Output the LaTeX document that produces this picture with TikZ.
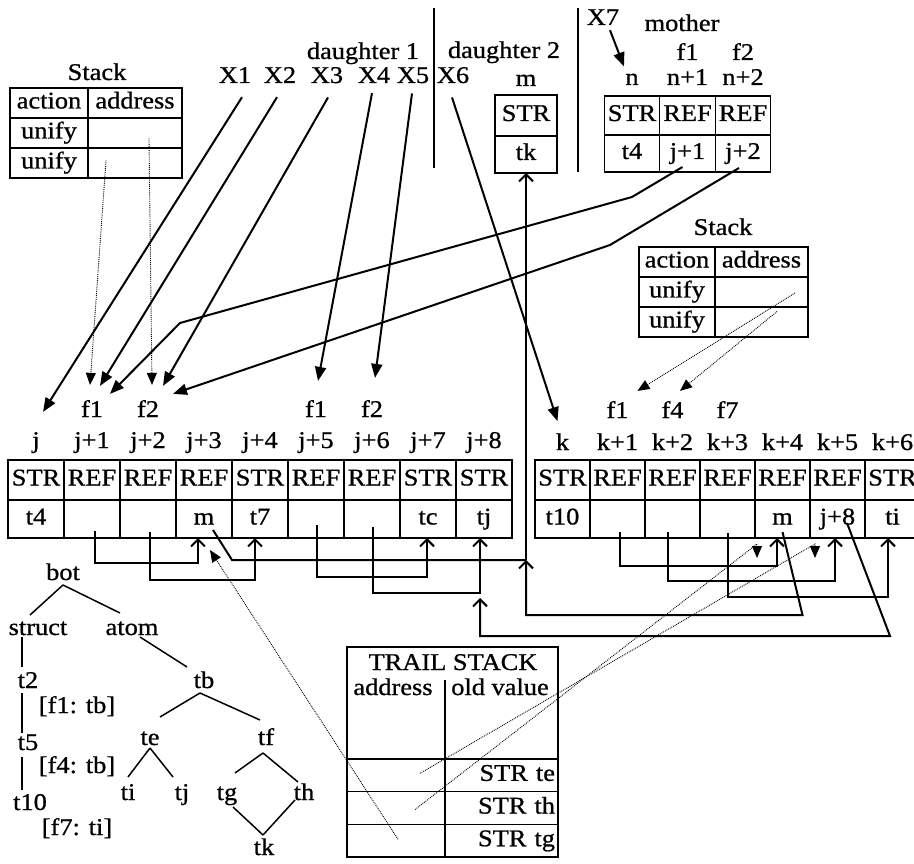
\documentclass[tikz,border=0pt]{standalone}
\usepackage{fontspec}
\setmainfont{Liberation Serif}[FakeStretch=1.1, FakeBold=0.8]
\usetikzlibrary{arrows.meta, positioning, calc}
\tikzset{
    font=\fontsize{24}{28}\selectfont,
    % Cells
    cell/.style={draw, line width=1.4pt, inner sep=0pt, outer sep=0pt,
                 minimum width=56pt, minimum height=40pt, text height=16pt, text depth=5pt},
    tcell/.style={draw, line width=1.4pt, inner sep=0pt, outer sep=0pt,
                  minimum height=30pt, text height=16pt, text depth=5pt},
    lbl/.style={anchor=base, inner sep=1pt},
    % Connectors
    ptr/.style={line width=2pt, -{Triangle[length=14pt,width=11pt]}},
    refarrow/.style={line width=2pt, -{Straight Barb[length=7pt,width=14pt]}},
    refline/.style={line width=2pt},
    dotptr/.style={densely dotted, line width=0.9pt, -{Triangle[length=12pt,width=10pt]}},
    tedge/.style={line width=1.5pt},
    divider/.style={line width=1.6pt}
}
\begin{document}
\begin{tikzpicture}[x=1pt, y=-1pt]
\clip (0,0) rectangle (914,864);
\fill[white] (0,0) rectangle (914,864);

% daughters
\node[lbl] (d1) at (363,59) {daughter 1};
\node[lbl] (d2) at (504,58) {daughter 2};
\draw[divider] (434,8) -- (434,168);
\draw[divider] (578,8) -- (578,172);
\foreach \n/\x in {1/235, 2/280, 3/327, 4/374, 5/413, 6/453}
    \node[lbl] (x\n) at (\x,83) {X\n};

\node[lbl] (dadr) at (526,86) {m};
\node[cell, minimum width=62pt, minimum height=41pt] (dt) at (526,115.5) {STR};
\node[cell, minimum width=62pt, minimum height=37pt, below=0pt of dt] (dv) {tk};

% mother
\node[lbl] (x7) at (603,25) {X7};
\node[lbl] (mom) at (682,31) {mother};
\foreach \adr/\f/\tag/\val [count=\i from 0] in {n//STR/t4, n+1/f1/REF/j+1, n+2/f2/REF/j+2} {
    \node[cell, minimum width=55.5pt, minimum height=39pt] (mt\i) at (632+55.5*\i,115.5) {\tag};
    \node[cell, minimum width=55.5pt, minimum height=37pt, below=0pt of mt\i] (mv\i) {\val};
    \node[lbl] (ma\i) at (632+55.5*\i,85) {\adr};
    \node[lbl] (mf\i) at (632+55.5*\i,60) {\f};
}

% stacks
\node[lbl] (lstk) at (97,80) {Stack};
\node[tcell, minimum width=78pt, anchor=north west] (ls-h1) at (10,88) {action};
\node[tcell, minimum width=94pt, right=0pt of ls-h1] (ls-h2) {address};
\node[tcell, minimum width=78pt, below=0pt of ls-h1] (ls-u1) {unify};
\node[tcell, minimum width=94pt, right=0pt of ls-u1] (ls-a1) {};
\node[tcell, minimum width=78pt, below=0pt of ls-u1] (ls-u2) {unify};
\node[tcell, minimum width=94pt, right=0pt of ls-u2] (ls-a2) {};

\node[lbl] (rstk) at (723,235) {Stack};
\node[tcell, minimum width=76pt, anchor=north west] (rs-h1) at (639,247) {action};
\node[tcell, minimum width=93pt, right=0pt of rs-h1] (rs-h2) {address};
\node[tcell, minimum width=76pt, below=0pt of rs-h1] (rs-u1) {unify};
\node[tcell, minimum width=93pt, right=0pt of rs-u1] (rs-a1) {};
\node[tcell, minimum width=76pt, below=0pt of rs-u1] (rs-u2) {unify};
\node[tcell, minimum width=93pt, right=0pt of rs-u2] (rs-a2) {};

% heap
\foreach \adr/\tag/\val [count=\i from 0] in {j/STR/t4, j+1/REF/, j+2/REF/, j+3/REF/m, j+4/STR/t7,
        j+5/REF/, j+6/REF/, j+7/STR/tc, j+8/STR/tj} {
    \node[cell] (jt\i) at (36+56*\i,480) {\tag};
    \node[cell, minimum height=38pt, below=0pt of jt\i] (jv\i) {\val};
    \node[lbl] (ja\i) at (36+56*\i,448) {\adr};
}
\node[lbl] (jf1) at ([yshift=31pt]ja1.base) {f1};
\node[lbl] (jf2) at ([yshift=31pt]ja2.base) {f2};
\node[lbl] (jf5) at ([yshift=31pt]ja5.base) {f1};
\node[lbl] (jf6) at ([yshift=31pt]ja6.base) {f2};

\foreach \adr/\tag/\val [count=\i from 0] in {k/STR/t10, k+1/REF/, k+2/REF/, k+3/REF/,
        k+4/REF/m, k+5/REF/j+8, k+6/STR/ti} {
    \node[cell, minimum width=55pt] (kt\i) at (562.5+55*\i,480) {\tag};
    \node[cell, minimum width=55pt, minimum height=38pt, below=0pt of kt\i] (kv\i) {\val};
    \node[lbl] (ka\i) at (562.5+55*\i,450) {\adr};
}
\node[lbl] (kf1) at ([yshift=32pt]ka1.base) {f1};
\node[lbl] (kf2) at ([yshift=32pt]ka2.base) {f4};
\node[lbl] (kf3) at ([yshift=32pt]ka3.base) {f7};

% trail stack
\node[draw, line width=1.4pt, inner sep=0pt, outer sep=0pt, minimum width=211pt,
      minimum height=112pt, anchor=north west] (trail) at (347,647) {};
\node[lbl] (trtitle) at (453,670) {TRAIL STACK};
\node[lbl] (tradr) at (393,695) {address};
\node[lbl] (trold) at (500,695) {old value};
\foreach \v [count=\i] in {te, th, tg} {
    \node[tcell, minimum width=98pt, minimum height=32.7pt, anchor=north west] (tra\i) at (347,759+32.7*\i-32.7) {};
    \node[tcell, minimum width=113pt, minimum height=32.7pt, text width=107pt, align=right,
          right=0pt of tra\i] (trv\i) {STR \v};
}
\draw[line width=1.4pt] (tra1.north east) -- ++(0,-79);

% type hierarchy
\node[lbl] (bot) at (63,580) {bot};
\node[lbl] (struct) at (38,635) {struct};
\node[lbl] (atom) at (132,635) {atom};
\node[lbl] (t2) at (28,688) {t2};
\node[lbl] (t5) at (28,750) {t5};
\node[lbl] (t10) at (30,810) {t10};
\node[lbl] (f1tb) at (77,713) {[f1: tb]};
\node[lbl] (f4tb) at (77,773) {[f4: tb]};
\node[lbl] (f7ti) at (77,835) {[f7: ti]};
\node[lbl] (tb) at (204,688) {tb};
\node[lbl] (te) at (150,745) {te};
\node[lbl] (tf) at (266,745) {tf};
\node[lbl] (ti) at (128,800) {ti};
\node[lbl] (tj) at (182,800) {tj};
\node[lbl] (tg) at (227,800) {tg};
\node[lbl] (th) at (304,800) {th};
\node[lbl] (tk) at (264,855) {tk};

\draw[tedge] ([shift={(0,5)}]bot.base) -- ([shift={(-8,-20)}]struct.base);
\draw[tedge] ([shift={(0,5)}]bot.base) -- ([shift={(-12,-22)}]atom.base);
\draw[tedge] ([shift={(8,2)}]atom.base) -- ([shift={(-17,-21)}]tb.base);
\draw[tedge] ([shift={(-16,2)}]struct.base) -- ([shift={(-6,-21)}]t2.base);
\draw[tedge] ([shift={(-6,5)}]t2.base) -- ([shift={(-6,-17)}]t5.base);
\draw[tedge] ([shift={(-6,7)}]t5.base) -- ([shift={(-8,-20)}]t10.base);
\draw[tedge] ([shift={(-4,5)}]tb.base) -- ([shift={(10,-28)}]te.base);
\draw[tedge] ([shift={(-4,5)}]tb.base) -- ([shift={(-6,-25)}]tf.base);
\draw[tedge] ([shift={(0,3)}]te.base) -- ([shift={(0,-23)}]ti.base);
\draw[tedge] ([shift={(0,3)}]te.base) -- ([shift={(-9,-23)}]tj.base);
\draw[tedge] ([shift={(-3,8)}]tf.base) -- ([shift={(8,-27)}]tg.base);
\draw[tedge] ([shift={(-3,8)}]tf.base) -- ([shift={(-6,-18)}]th.base);
\draw[tedge] ([shift={(6,7)}]tg.base) -- ([shift={(-1,-20)}]tk.base);
\draw[tedge] ([shift={(-9,0)}]th.base) -- ([shift={(-1,-20)}]tk.base);

% argument registers
\draw[ptr] ([shift={(7,13)}]x1.south) -- ([shift={(7,-19)}]ja0.north);
\draw[ptr] ([shift={(-3,13)}]x2.south) -- ([shift={(8,-13)}]jf1.north);
\draw[ptr] ([shift={(1,13)}]x3.south) -- ([shift={(15,-13)}]jf2.north);
\draw[ptr] ([shift={(-2,9)}]x4.south) -- ([shift={(2,-18)}]jf5.north);
\draw[ptr] ([shift={(-1,9)}]x5.south) -- ([shift={(3,-21)}]jf6.north);
\draw[ptr] ([shift={(-1,13)}]x6.south) -- ([shift={(-5,-11)}]ka0.north);
\draw[ptr] ([shift={(7,4)}]x7.south) -- ([shift={(-8,-6)}]ma0.north);

\draw[ptr] ([shift={(-5,-5)}]mv1.south) -- (632,197) -- (180,323) -- ([shift={(18,-5)}]jf1.north);
\draw[ptr] ([shift={(-4,-4)}]mv2.south) -- (610,245) -- ([shift={(25,-5)}]jf2.north);

\draw[dotptr] ([shift={(14,5.5)}]ls-a1.center) -- ([shift={(4,-14)}]jf2.north);
\draw[dotptr] ([shift={(-29,-2.5)}]ls-a2.center) -- ([shift={(-2,-14)}]jf1.north);
\draw[dotptr] ([shift={(33.5,1)}]rs-a1.center) -- ([shift={(20,-9)}]kf1.north);
\draw[dotptr] ([shift={(15.5,-10.5)}]rs-a2.center) -- ([shift={(7.5,-9)}]kf2.north);

% references inside the heap
\coordinate (mjoin) at ($(dv.south |- jv3.south)+(0,22)$);
\coordinate (tjoin) at ($(jv8.south)+(-4,60)$);

\draw[refarrow] ([shift={(3,-7)}]jv1.south) -- ++(0,32) -| ([xshift=-6pt]jv3.south);
\draw[refarrow] ([shift={(2,-6)}]jv2.south) -- ++(0,48) -| ([xshift=-5pt]jv4.south);
\draw[refline] ([shift={(9,-8)}]jv3.south) -- ++(19,30) -- (mjoin);
\draw[refarrow] ([shift={(1,-13)}]jv5.south) -- ++(0,52) -| ([xshift=-1pt]jv7.south);
\draw[refarrow] ([shift={(1,-11)}]jv6.south) -- ++(0,66) -| ([xshift=-4pt]jv8.south);

\draw[refarrow] ([shift={(2.5,-6)}]kv1.south) -- ++(0,34) -| ([xshift=-5.5pt]kv4.south);
\draw[refarrow] ([shift={(-4.5,-6)}]kv2.south) -- ++(0,49) -| ([xshift=-2.5pt]kv5.south);
\draw[refarrow] ([shift={(0,-5)}]kv3.south) -- ++(0,64) -| ([xshift=-4.5pt]kv6.south);
\draw[refarrow] ([shift={(0,-6)}]kv4.south) -- ++(20,83) -| (mjoin);
\draw[refarrow] (mjoin) -- (dv.south);
\draw[refarrow] ([shift={(9.5,-15)}]kv5.south) -- ++(43,113) -| (tjoin);

% trail entries
\draw[dotptr] ([shift={(24,-2)}]tra1.center) -- ([shift={(-22.5,6)}]kv5.south) -- ([shift={(-22.5,20)}]kv5.south);
\draw[dotptr] ([shift={(19,1.5)}]tra2.center) -- ([shift={(-25.5,6)}]kv4.south) -- ([shift={(-25.5,20)}]kv4.south);
\draw[dotptr] ([shift={(2,-1.5)}]tra3.center) -- ([shift={(6,12)}]jv3.south);

\end{tikzpicture}
\end{document}
